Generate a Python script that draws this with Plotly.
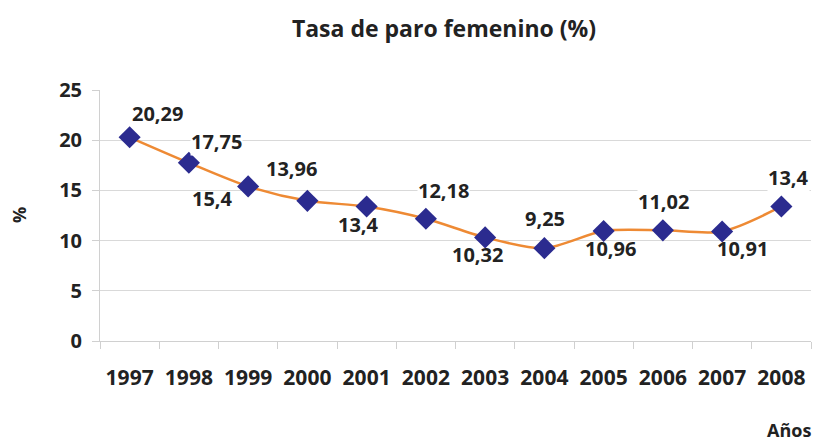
import plotly.graph_objects as go

years = ["1997", "1998", "1999", "2000", "2001", "2002", "2003", "2004", "2005", "2006", "2007", "2008"]
rates = [20.29, 17.75, 15.4, 13.96, 13.4, 12.18, 10.32, 9.25, 10.96, 11.02, 10.91, 13.4]
label_text = ["20,29", "17,75", "15,4", "13,96", "13,4", "12,18", "10,32", "9,25", "10,96", "11,02", "10,91", "13,4"]
y_ticks = [0, 5, 10, 15, 20, 25]

# label offsets (pixels) relative to each point
label_dx = [28, 28, -36, -16, -8, 18, -8, 1, 7, 1, 20, 7]
label_dy = [-24, -21, 12, -32, 18, -28, 17, -30, 18, -29, 17, -29]

FONT = "Open Sans"
TXT = "#222222"
W, H = 815, 441
L, R, T, B = 100, 4, 90, 100
PW, PH = W - L - R, H - T - B

fig = go.Figure()
fig.add_trace(go.Scatter(
    x=list(range(len(years))), y=rates, mode="lines+markers",
    line=dict(color="#EE8A34", width=2.5, shape="spline", smoothing=0.8),
    marker=dict(symbol="diamond", size=17, color="#2B2B8F"),
    text=years, hovertemplate="%{text}: %{y}<extra></extra>", showlegend=False,
))

annotations = []
for i, (y, t, dx, dy) in enumerate(zip(rates, label_text, label_dx, label_dy)):
    annotations.append(dict(
        x=i, y=y, xref="x", yref="y", text=t, showarrow=True,
        arrowcolor="rgba(0,0,0,0)", arrowwidth=0.1, ax=dx, ay=dy,
        xanchor="center", yanchor="middle",
        font=dict(family=FONT, size=20, color=TXT, weight=700),
        bgcolor="white" if dy < 0 else "rgba(0,0,0,0)", borderpad=0,
    ))

annotations.append(dict(
    xref="paper", yref="paper", x=(19 - L) / PW, y=(H - 215 - B) / PH,
    xanchor="center", yanchor="middle",
    text="%", showarrow=False, textangle=-90,
    font=dict(family=FONT, size=18, color=TXT, weight=700),
))
annotations.append(dict(
    xref="paper", yref="paper", x=(789 - L) / PW, y=(H - 430 - B) / PH,
    xanchor="center", yanchor="middle",
    text="Años", showarrow=False,
    font=dict(family=FONT, size=18, color=TXT, weight=700),
))

fig.update_layout(
    width=W, height=H,
    margin=dict(l=L, r=R, t=T, b=B, autoexpand=False),
    paper_bgcolor="white", plot_bgcolor="white",
    title=dict(text="Tasa de paro femenino (%)", x=444 / W, xanchor="center",
               y=1 - 29 / H, yanchor="middle", automargin=False,
               font=dict(family=FONT, size=23, color=TXT, weight=700)),
    annotations=annotations,
    font=dict(family=FONT, color=TXT),
)
fig.update_xaxes(
    tickmode="array", tickvals=list(range(len(years))), ticktext=years,
    range=[-0.5, len(years) - 0.5], automargin=False,
    ticks="", showline=True, linecolor="#D0D0D0", showgrid=False, zeroline=False,
    ticklabelstandoff=18,
    tickfont=dict(family=FONT, size=21, color=TXT, weight=700),
    minor=dict(tickvals=[i - 0.5 for i in range(len(years) + 1)], ticks="outside",
               ticklen=7, tickcolor="#D0D0D0", showgrid=False),
)
fig.update_yaxes(
    range=[0, 25], tickvals=y_ticks, ticks="outside", ticklen=7, automargin=False,
    tickcolor="#D0D0D0", showline=True, linecolor="#D0D0D0",
    showgrid=True, gridcolor="#D9D9D9", zeroline=False,
    ticklabelstandoff=6,
    tickfont=dict(family=FONT, size=20, color=TXT, weight=700),
)

fig.write_html(
    "out.html",
    config={"displayModeBar": False},
    post_script="document.body.style.margin='0';document.body.style.overflow='hidden';",
)
